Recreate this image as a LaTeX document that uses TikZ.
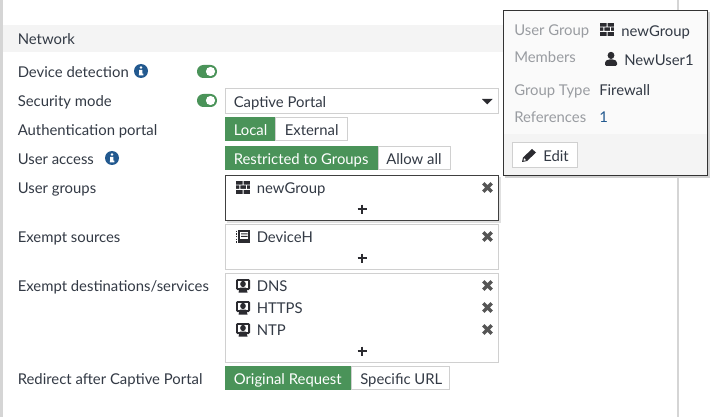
\documentclass[tikz,border=0pt]{standalone}
\usepackage{fontspec}
\setmainfont{Lato}
\definecolor{txt}{HTML}{333A45}
\definecolor{lbl}{HTML}{999CA1}
\definecolor{grn}{HTML}{4A9359}
\definecolor{bord}{HTML}{D0D0D0}
\definecolor{band}{HTML}{F4F4F4}
\definecolor{popbg}{HTML}{FAFAFA}
\definecolor{infob}{HTML}{22598F}
\definecolor{xcol}{HTML}{555555}
\definecolor{icon}{HTML}{2B2B30}
\tikzset{
  lab/.style={anchor=base west,inner sep=0pt,text=txt,yshift=-0.4pt,font=\fontsize{11.15pt}{13pt}\selectfont},
  lbg/.style={lab,text=lbl},
  wht/.style={lab,text=white},
  on/.style={fill=grn,draw=none},
  off/.style={fill=white,draw=bord,line width=0.9pt},
  panel/.style={fill=white,draw=bord,line width=0.9pt},
}
\newcommand{\xmark}[2]{\draw[xcol,line width=2.5pt] (#1-4.2,#2-4.2) -- (#1+4.2,#2+4.2) (#1-4.2,#2+4.2) -- (#1+4.2,#2-4.2);}
\newcommand{\plusmark}[2]{\draw[icon,line width=1.4pt] (#1-4.5,#2) -- (#1+4.5,#2) (#1,#2-4.5) -- (#1,#2+4.5);}
\newcommand{\toggle}[2]{\fill[grn,rounded corners=4.8pt] (#1,#2) rectangle (#1+20,#2+13); \fill[white] (#1+13.5,#2+6.5) circle[radius=4.6];}
\newcommand{\infoicon}[2]{\fill[infob] (#1,#2) circle[radius=7]; \fill[white] (#1,#2-3.5) circle[radius=1.4]; \fill[white] (#1-1.8,#2-1) rectangle (#1+1.4,#2+3) (#1-2.2,#2+2.6) rectangle (#1+2.4,#2+4.4);}
\newcommand{\brick}[2]{\begin{scope}[shift={(#1,#2)}]
  \fill[icon] (0,0) rectangle (14,13);
  \fill[white] (0,3.6) rectangle (14,4.5) (0,8) rectangle (14,8.9) (6.6,0) rectangle (7.5,3.6) (3.4,4.5) rectangle (4.3,8) (10,4.5) rectangle (10.9,8) (6.6,8.9) rectangle (7.5,13);
\end{scope}}
\newcommand{\srv}[2]{\begin{scope}[shift={(#1,#2)}]
  \fill[icon,rounded corners=1pt] (0,0) rectangle (14,11);
  \fill[white] (2,2) rectangle (12,9);
  \fill[icon] (7,5) ellipse[x radius=2.8,y radius=3.2];
  \fill[icon] (2.5,13.5) -- (4,8.5) -- (10,8.5) -- (11.5,13.5) -- cycle;
\end{scope}}
\newcommand{\devicon}[2]{\begin{scope}[shift={(#1,#2)}]
  \fill[icon] (2,0) rectangle (14,13);
  \fill[white] (3.6,1.8) rectangle (12.4,8.8);
  \fill[icon] (5,3.4) rectangle (11.5,4.4) (5,5.8) rectangle (11.5,6.8);
  \draw[icon,line width=0.8pt,dash pattern=on 1pt off 1pt] (0.4,0.5) -- (0.4,13);
\end{scope}}
\begin{document}
\begin{tikzpicture}[x=0.75pt,y=-0.75pt]
\useasboundingbox (0,0) rectangle (710,417);
\fill[white] (0,0) rectangle (710,417);
% page edges and band
\fill[bord!90] (0,0) rectangle (3,417);
\fill[bord!90] (677,0) rectangle (679,417);
\fill[band] (3,25) rectangle (677,52);
\node[lab] (network) at (17.5,44) {Network};
% row labels
\node[lab] (ldevice) at (17.5,77) {Device detection};
\node[lab] (lsec) at (17.5,106) {Security mode};
\node[lab] (lauth) at (17.5,135) {Authentication portal};
\node[lab] (lacc) at (17.5,164) {User access};
\node[lab] (lgrp) at (17.5,193) {User groups};
\node[lab] (lsrc) at (17.5,242) {Exempt sources};
\node[lab] (ldst) at (17.5,291) {Exempt destinations/services};
\node[lab] (lred) at (17.5,384) {Redirect after Captive Portal};
\infoicon{141}{71}
\infoicon{112}{158}
\toggle{197}{65}
\toggle{197}{94}
% select
\draw[panel] (225.5,88.5) rectangle (498.5,113.5);
\node[lab] (capt) at (233.5,107) {Captive Portal};
\fill[icon] (482,99) -- (492.5,99) -- (487.25,104.5) -- cycle;
% button groups
\fill[on] (225,117) rectangle (275,141);
\node[wht] (local) at (233.5,135) {Local};
\draw[off] (275.5,117.5) rectangle (347.5,140.5);
\node[lab] (ext) at (284.5,135) {External};
\fill[on] (225,146) rectangle (378,170);
\node[wht] (restr) at (233.5,164) {Restricted to Groups};
\draw[off] (378.5,146.5) rectangle (450.5,169.5);
\node[lab] (allow) at (386,164) {Allow all};
% user groups
\fill[black!12] (227,177) rectangle (501,223);
\draw[fill=white,draw=black!75,line width=0.9pt] (225.5,175.5) rectangle (498.5,220.5);
\brick{236}{181}
\node[lab] (ngrp) at (256.5,193) {newGroup};
\xmark{487.5}{187.5}
\plusmark{362}{209}
% exempt sources
\draw[panel] (225.5,224.5) rectangle (498.5,269.5);
\devicon{236}{230}
\node[lab] (devh) at (256.5,242) {DeviceH};
\xmark{487.5}{236.5}
\plusmark{362}{258}
% exempt destinations
\draw[panel] (225.5,273.5) rectangle (498.5,362.5);
\srv{236}{279}
\node[lab] (dns) at (256.5,291) {DNS};
\xmark{487.5}{285.5}
\srv{236}{301}
\node[lab] (https) at (256.5,313) {HTTPS};
\xmark{487.5}{307.5}
\srv{236}{323}
\node[lab] (ntp) at (256.5,335) {NTP};
\xmark{487.5}{329.5}
\plusmark{362}{351}
% redirect
\fill[on] (225,366) rectangle (351,390);
\node[wht] (orig) at (233.5,384) {Original Request};
\draw[off] (351.5,366.5) rectangle (449.5,389.5);
\node[lab] (spec) at (360,384) {Specific URL};
% popup
\fill[black!18] (505,12) rectangle (710,178);
\fill[popbg] (503,10) rectangle (708,176);
\fill[band] (503,134) rectangle (708,176);
\draw[draw=black!80,line width=0.9pt] (503.5,10.5) rectangle (707.5,175.5);
\node[lbg] (pug) at (514,35) {User Group};
\brick{600}{23}
\node[lab] (png) at (621,35.5) {newGroup};
\node[lbg] (pmem) at (514,62) {Members};
\begin{scope}[shift={(605,52)}]
  \fill[icon] (6,3.4) ellipse[x radius=3.4,y radius=3.6];
  \fill[icon,rounded corners=1pt] (0,14) -- (0,9.5) -- (3,7.5) -- (9,7.5) -- (12,9.5) -- (12,14) -- cycle;
\end{scope}
\node[lab] (pusr) at (624,65) {NewUser1};
\node[lbg] (pgt) at (514,95) {Group Type};
\node[lab] (pfw) at (599,95) {Firewall};
\node[lbg] (pref) at (514,122) {References};
\node[lab,text=infob] (pone) at (599,122) {1};
\draw[fill=white,draw=bord,line width=0.9pt] (512.5,142.5) rectangle (577.5,167.5);
\begin{scope}[shift={(522,148)}]
  \fill[icon] (0,14) -- (1,9.5) -- (10,1) -- (14,4.5) -- (5,13) -- cycle;
  \fill[white] (1.5,12.8) -- (2.1,10.2) -- (4,12.2) -- cycle;
\end{scope}
\node[lab] (edit) at (543,161) {Edit};
\end{tikzpicture}
\end{document}
